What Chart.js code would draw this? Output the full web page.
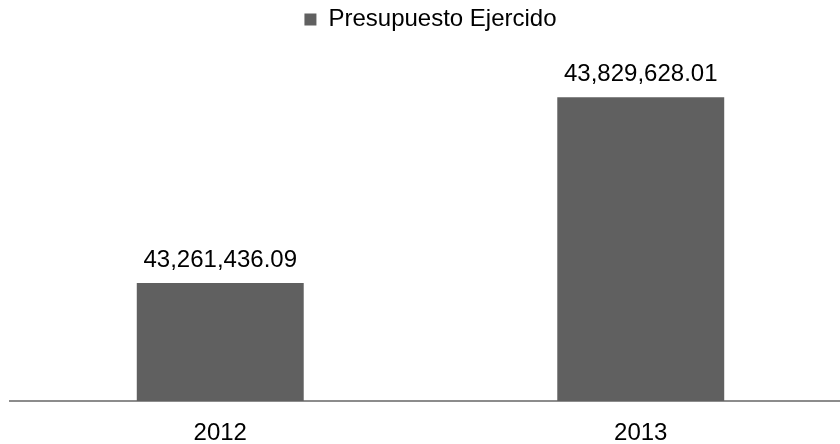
<!DOCTYPE html>
<html>
<head>
<meta charset="utf-8">
<script src="https://cdn.jsdelivr.net/npm/chart.js@4/dist/chart.umd.min.js"></script>
<style>
  body { margin: 0; background: #fff; overflow: hidden; }
</style>
</head>
<body>
<canvas id="canvas" width="851" height="444"></canvas>
<script>
const years = ["2012", "2013"];
const presupuesto = [43261436.09, 43829628.01];
const seriesName = "Presupuesto Ejercido";

const fontFamily = "'Liberation Sans', Arial, sans-serif";

const fmt = (v) =>
  v.toLocaleString("en-US", { minimumFractionDigits: 2, maximumFractionDigits: 2 });

// value labels above the bars
const valueLabels = {
  id: "valueLabels",
  afterDatasetsDraw(chart) {
    const ctx = chart.ctx;
    const meta = chart.getDatasetMeta(0);
    ctx.save();
    ctx.font = "24px " + fontFamily;
    ctx.fillStyle = "#000";
    ctx.textAlign = "center";
    ctx.textBaseline = "alphabetic";
    meta.data.forEach((bar, i) => {
      ctx.fillText(fmt(presupuesto[i]), bar.x, bar.y - 16);
    });
    ctx.restore();
  },
};

const data = {
  labels: years,
  datasets: [
    {
      label: seriesName,
      data: presupuesto,
      backgroundColor: "#606060",
      borderWidth: 0,
      barPercentage: 0.397,
      categoryPercentage: 1,
    },
  ],
};

const config = {
  type: "bar",
  data: data,
  options: {
    responsive: false,
    animation: false,
    layout: { padding: { left: 10, right: 0, top: 0, bottom: 0 } },
    plugins: {
      tooltip: { enabled: false },
      legend: {
        position: "top",
        labels: {
          boxWidth: 12,
          boxHeight: 12,
          padding: 7.5,
          color: "#000",
          font: { family: fontFamily, size: 24 },
        },
      },
    },
    scales: {
      x: {
        grid: { display: false },
        border: { display: true, color: "#8c8c8c", width: 2 },
        ticks: {
          padding: 10,
          color: "#000",
          font: { family: fontFamily, size: 24 },
        },
        afterFit: (scale) => {
          scale.height = 43;
        },
      },
      y: {
        display: false,
        min: 42900000,
        max: 44000000,
      },
    },
  },
  plugins: [valueLabels],
};

const canvas = document.getElementById("canvas");
const chart = new Chart(canvas, config);
</script>
</body>
</html>
